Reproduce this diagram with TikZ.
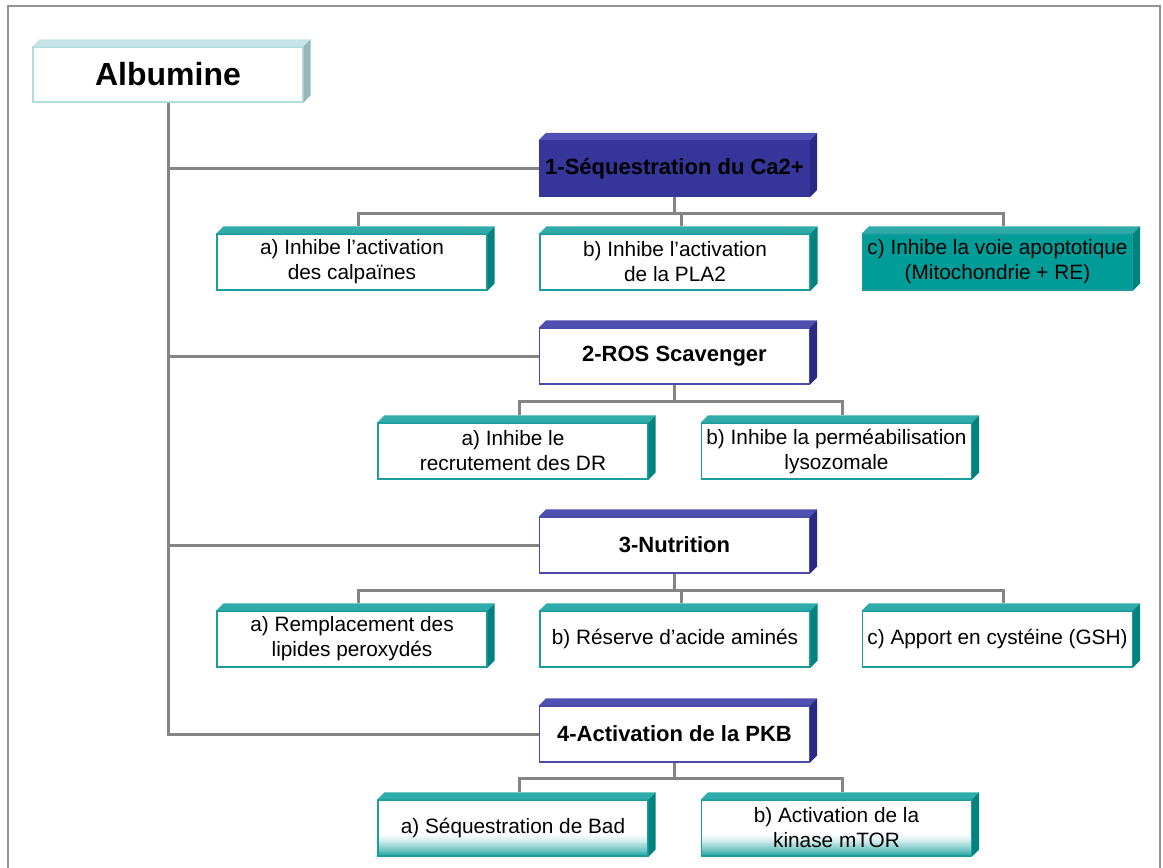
\documentclass[tikz,border=0pt]{standalone}
\usepackage{fontspec}
\setmainfont{Liberation Sans}
\definecolor{framegray}{HTML}{929292}
\definecolor{linkgray}{HTML}{858585}
\definecolor{rootedge}{HTML}{B2DCE0}
\definecolor{roottop}{HTML}{C6E5E7}
\definecolor{rootside}{HTML}{98B7B8}
\definecolor{headedge}{HTML}{4A4AA8}
\definecolor{headfill}{HTML}{35359A}
\definecolor{headtop}{HTML}{5050B2}
\definecolor{headside}{HTML}{2A2A85}
\definecolor{leafedge}{HTML}{1C9C9C}
\definecolor{leaftop}{HTML}{2FACA9}
\definecolor{leafside}{HTML}{00827F}
\definecolor{leaffill}{HTML}{009C97}

% top and right faces that give a box its depth
\newcommand\boxfaces[3]{%
  \fill[#2] (#1.north west) -- ++(7,7) -- ([shift={(7,7)}]#1.north east) -- (#1.north east) -- cycle;
  \fill[#3] (#1.north east) -- ++(7,7) -- ([shift={(7,7)}]#1.south east) -- (#1.south east) -- cycle;
}

\begin{document}
\begin{tikzpicture}[x=1pt,y=1pt,
  link/.style={draw=linkgray, line width=3pt, line join=miter},
  base/.style={rectangle, inner sep=0pt, minimum width=270pt, minimum height=56pt,
    align=center, line width=1.2pt, text=black},
  rootbox/.style={base, fill=white, draw=rootedge, minimum height=55pt,
    font=\fontsize{32}{36}\selectfont\bfseries},
  headbox/.style={base, fill=white, draw=headedge,
    font=\fontsize{22}{26}\selectfont\bfseries},
  headfull/.style={headbox, fill=headfill, draw=headfill},
  leafbox/.style={base, fill=white, draw=leafedge,
    font=\fontsize{20.8}{25}\selectfont},
  leaffull/.style={leafbox, fill=leaffill},
  % white box whose lower band fades into teal, drawn as thin strips
  leaffade/.style={leafbox, path picture={
    \foreach \i in {0,...,23}{
      \pgfmathsetmacro\pc{100*(1-\i/24)^1.3}
      \pgfmathsetmacro\ya{\i*0.9}
      \pgfmathsetmacro\yb{\i*0.9+1.1}
      \fill[leaftop!\pc!white]
        ([yshift=\ya pt]path picture bounding box.south west)
        rectangle ([yshift=\yb pt]path picture bounding box.south east);}}},
]
\useasboundingbox (0,0) rectangle (1163,-868);
\fill[white] (0,0) rectangle (1163,-868);

% page frame
\draw[framegray, line width=2pt] (8,-868) -- (8,-6) -- (1160,-6) -- (1160,-868);

% root
\node[rootbox] (alb) at (168,-74.5) {Albumine};

% main branches
\node[headfull] (h1) at (674.5,-168.5) {1-Séquestration du Ca2+};
\node[headbox]  (h2) at (674.5,-356) {2-ROS Scavenger};
\node[headbox]  (h3) at (674.5,-545) {3-Nutrition};
\node[headbox]  (h4) at (674.5,-734) {4-Activation de la PKB};

% leaves
\node[leafbox]  (l1a) at (352,-262)   {a) Inhibe l’activation\\des calpaïnes};
\node[leafbox]  (l1b) at (675,-262)   {b) Inhibe l’activation\\de la PLA2};
\node[leaffull] (l1c) at (997.5,-262) {c) Inhibe la voie apoptotique\\(Mitochondrie + RE)};

\node[leafbox] (l2a) at (513,-451)   {a) Inhibe le\\recrutement des DR};
\node[leafbox] (l2b) at (836.5,-451) {b) Inhibe la perméabilisation\\lysozomale};

\node[leafbox] (l3a) at (352,-639)   {a) Remplacement des\\lipides peroxydés};
\node[leafbox] (l3b) at (675,-639)   {b) Réserve d’acide aminés};
\node[leafbox] (l3c) at (997.5,-639) {c) Apport en cystéine (GSH)};

\node[leaffade] (l4a) at (513,-828)   {a) Séquestration de Bad};
\node[leaffade] (l4b) at (836.5,-828) {b) Activation de la\\kinase mTOR};

% depth faces
\boxfaces{alb}{roottop}{rootside}
\boxfaces{h1}{headtop}{headside}
\foreach \n in {h2,h3,h4}{\boxfaces{\n}{headtop}{headside}}
\foreach \n in {l1a,l1b,l1c,l2a,l2b,l3a,l3b,l3c,l4a,l4b}{\boxfaces{\n}{leaftop}{leafside}}

% trunk and branches
\draw[link] (alb.south) |- (h1.west);
\draw[link] (alb.south) |- (h2.west);
\draw[link] (alb.south) |- (h3.west);
\draw[link] (alb.south) |- (h4.west);

% bars under each main branch
\coordinate (bar1) at (0,-213);
\coordinate (bar2) at (0,-401);
\coordinate (bar3) at (0,-590);
\coordinate (bar4) at (0,-778);

\draw[link] (h1.south) -- (h1.south |- bar1);
\foreach \n in {l1a,l1b,l1c}{\draw[link] ([shift={(6,7)}]\n.north) |- (h1.south |- bar1);}
\draw[link] (h2.south) -- (h2.south |- bar2);
\foreach \n in {l2a,l2b}{\draw[link] ([shift={(6,7)}]\n.north) |- (h2.south |- bar2);}
\draw[link] (h3.south) -- (h3.south |- bar3);
\foreach \n in {l3a,l3b,l3c}{\draw[link] ([shift={(6,7)}]\n.north) |- (h3.south |- bar3);}
\draw[link] (h4.south) -- (h4.south |- bar4);
\foreach \n in {l4a,l4b}{\draw[link] ([shift={(6,7)}]\n.north) |- (h4.south |- bar4);}
\end{tikzpicture}
\end{document}
